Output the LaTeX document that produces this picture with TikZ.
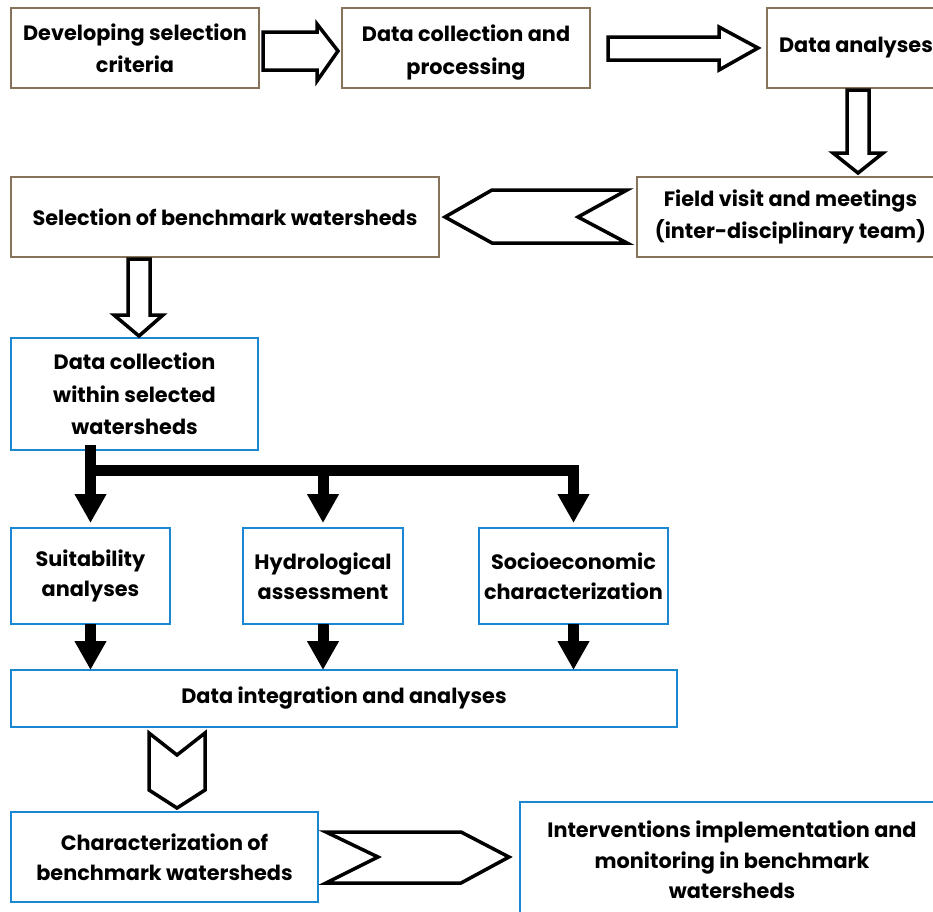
\documentclass[tikz,border=0pt]{standalone}
\usepackage{fontspec}
\setmainfont{Poppins}
\usetikzlibrary{arrows.meta,calc}
\definecolor{brownb}{RGB}{135,115,90}
\definecolor{blueb}{RGB}{25,135,210}
\begin{document}
\begin{tikzpicture}[x=1pt,y=-1pt,
  box/.style={draw, line width=2pt, fill=white, inner sep=0pt, outer sep=0pt, align=center,
    font=\bfseries\fontsize{20.8}{32.5}\selectfont, anchor=north west},
  brbox/.style={box, draw=brownb},
  blbox/.style={box, draw=blueb},
  small/.style={font=\bfseries\fontsize{20.8}{30.5}\selectfont},
  txt/.style={align=center, inner sep=0pt, font=\bfseries\fontsize{20.8}{32.5}\selectfont},
  block/.style={draw=black, line width=3.5pt, fill=white, line join=miter},
  bus/.style={line width=11pt, line join=miter, line cap=rect},
  busarrow/.style={line width=11pt, -{Triangle[length=29pt,width=30pt]}}]
\clip (0,0) rectangle (933,911);
\fill[white] (0,0) rectangle (933,911);

\node[brbox, minimum width=248pt, minimum height=80pt] (b1) at (11,8) {Developing selection\\criteria};
\node[brbox, minimum width=248pt, minimum height=80pt] (b2) at (342,8) {};
\node[txt] (b2t) at ([yshift=-4.5pt]b2.center) {Data collection and\\processing};
\node[brbox, minimum width=178pt, minimum height=80pt] (b3) at (767,8) {Data analyses};
\node[brbox, minimum width=307pt, minimum height=80pt] (b4) at (637,177) {Field visit and meetings\\(inter-disciplinary team)};
\node[brbox, minimum width=428pt, minimum height=80pt] (b5) at (11,177) {Selection of benchmark watersheds};
\node[blbox, minimum width=247pt, minimum height=112pt] (b6) at (11,338) {Data collection\\within selected\\watersheds};
\node[blbox, small, minimum width=159pt, minimum height=96pt] (suit) at (11,528) {Suitability\\analyses};
\node[blbox, small, minimum width=160pt, minimum height=96pt] (hyd) at (243,528) {Hydrological\\assessment};
\node[blbox, small, minimum width=189pt, minimum height=96pt] (soc) at (479,528) {Socioeconomic\\characterization};
\node[blbox, minimum width=666pt, minimum height=57pt] (integ) at (11,670) {Data integration and analyses};
\node[blbox, small, minimum width=307pt, minimum height=90pt] (char) at (11,812) {Characterization of\\benchmark watersheds};
\node[blbox, small, minimum width=424pt, minimum height=116pt] (interv) at (520,802) {Interventions implementation and\\monitoring in benchmark\\watersheds};

% block arrows
\draw[block] (263,32) -- (317,32) -- (317,24) -- (338,51) -- (317,81) -- (317,70) -- (263,70) -- cycle;
\draw[block] (608,37) -- (719,37) -- (719,27) -- (758,48) -- (719,70) -- (719,60) -- (608,60) -- cycle;
\draw[block] (847,90) -- (869,90) -- (869,153) -- (883,153) -- (858,173) -- (833,153) -- (847,153) -- cycle;
\draw[block] (445,217) -- (492,190) -- (627,190) -- (578,217) -- (627,243) -- (492,243) -- cycle;
\draw[block] (128,259) -- (150,259) -- (150,315) -- (163,315) -- (139,336) -- (114,315) -- (128,315) -- cycle;
\draw[block] (149,733) -- (177,755) -- (205,733) -- (205,790) -- (177,808) -- (149,790) -- cycle;
\draw[block] (326,832) -- (461,832) -- (509,857) -- (461,883) -- (326,883) -- (378,857) -- cycle;

% connectors
\coordinate (busy) at (0,470);
\draw[bus] (suit.north |- b6.south) -- (suit.north |- busy) -- (soc.north |- busy);
\draw[busarrow, shorten >=5pt] (suit.north |- busy) -- (suit.north);
\draw[busarrow, shorten >=5pt] (hyd.north |- busy) -- (hyd.north);
\draw[busarrow, shorten >=5pt] (soc.north |- busy) -- (soc.north);
\draw[busarrow] (suit.south) -- (suit.south |- integ.north);
\draw[busarrow] (hyd.south) -- (hyd.south |- integ.north);
\draw[busarrow] (soc.south) -- (soc.south |- integ.north);
\end{tikzpicture}
\end{document}
